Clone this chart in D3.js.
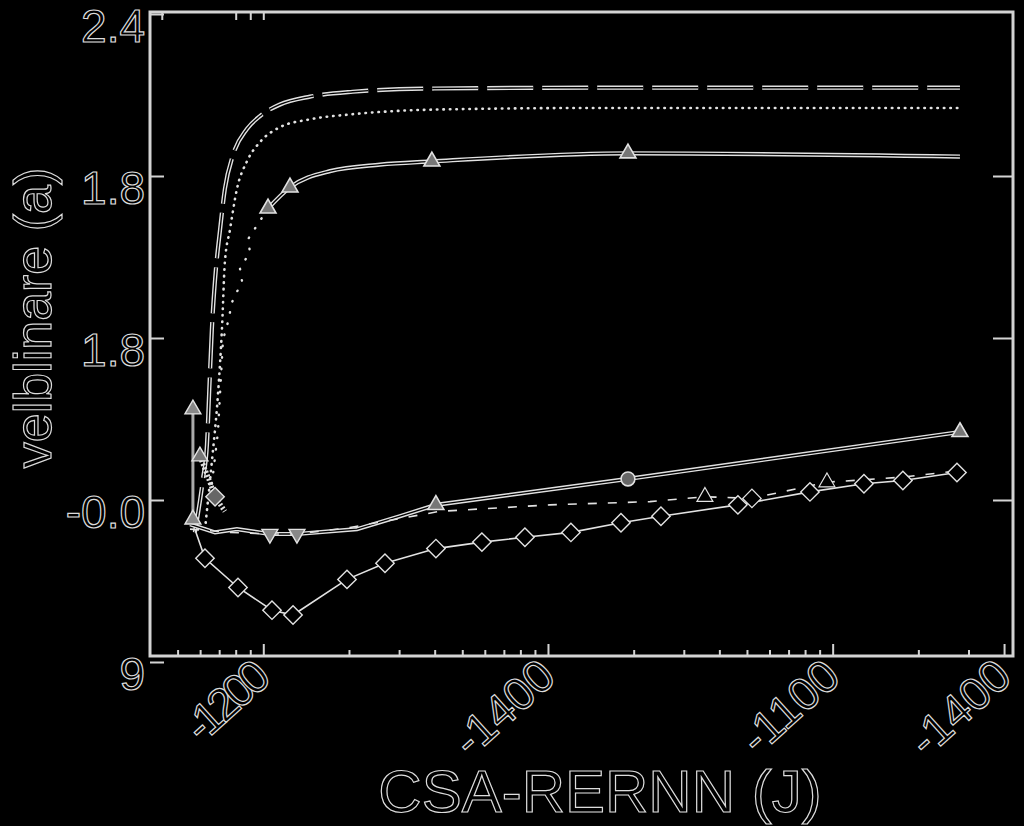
<!DOCTYPE html>
<html><head><meta charset="utf-8">
<script src="https://cdn.jsdelivr.net/npm/d3@7/dist/d3.min.js"></script>
<style>html,body{margin:0;background:#000;}svg{display:block;}</style>
</head><body>
<svg id="chart" width="1024" height="826"></svg>
<script>
// ---------- data ----------
const xMajorTicks = [100, 1000, 10000, 40000];
const xTickLabels = ["-1200", "-1400", "-1100", "-1400"];
const xMinorTicks = [50, 60, 70, 80, 90, 200, 300, 400, 500, 600, 700, 800, 900,
                     2000, 3000, 4000, 5000, 6000, 7000, 8000, 9000, 20000, 30000];
const xTopTicks = [44, 80, 90, 100];
const yTicks = [0, 1, 2, 3, 4];
const yTickLabels = ["9", "-0.0", "1.8", "1.8", "2.4"];
const xTitle = "CSA-RERNN (J)";
const yTitle = "velblinare (a)";

// long-dashed top curve
const seriesA_x = [57.5, 61.4, 63.4, 64.5, 66.0, 67.7, 70.5, 73.3, 78.3, 87.6, 97.4, 114, 146, 206, 400, 1500, 28000];
const seriesA_y = [0.80, 1.13, 1.34, 1.65, 2.06, 2.36, 2.67, 2.92, 3.13, 3.29, 3.37, 3.44, 3.49, 3.52, 3.54, 3.545, 3.545];
// dotted curve
const seriesB_x = [62.4, 66.0, 69.3, 71.6, 73.3, 76.4, 80.8, 87.6, 97.4, 114, 146, 202, 401, 1522, 28000];
const seriesB_y = [0.82, 1.24, 1.65, 2.06, 2.47, 2.67, 2.92, 3.09, 3.21, 3.30, 3.35, 3.38, 3.41, 3.42, 3.42];
// sparse dotted lead-in to the triangle curve
const seriesC0_x = [66.0, 69.3, 72.2, 75.2, 77.6, 84.2, 82.8, 89.8, 88.4, 103.9];
const seriesC0_y = [1.10, 1.42, 1.99, 2.10, 2.22, 2.35, 2.43, 2.53, 2.61, 2.80];
// solid curve with triangles
const seriesC_x = [103.9, 124.1, 171.5, 257, 391, 1910, 28000];
const seriesC_y = [2.80, 2.93, 3.03, 3.07, 3.09, 3.14, 3.12];
const seriesC_marks = [103.9, 124.1, 391, 1910];
// rising double line
const seriesD_x = [55.3, 67.7, 80.8, 105.5, 131.3, 213.3, 302, 404, 1910, 28000];
const seriesD_y = [0.85, 0.80, 0.82, 0.79, 0.79, 0.82, 0.90, 0.97, 1.13, 1.42];
const seriesD_marks = [404, 28000];
const seriesD_circle = [1910];
// short-dashed line
const seriesE_x = [55.3, 76.4, 105.5, 131.3, 201.6, 417, 1016, 2282, 3559, 5205, 9550, 17230, 27550];
const seriesE_y = [0.82, 0.80, 0.79, 0.79, 0.83, 0.93, 0.97, 0.99, 1.02, 1.01, 1.11, 1.14, 1.18];
const seriesE_down = [105.5, 131.3];
const seriesE_up = [3559, 9550];
const seriesE_diam = [5205];
// thin line with diamonds
const seriesF_x = [57.5, 62.4, 81.5, 107.3, 127.2, 196.8, 267.6, 404, 586, 830, 1204, 1805, 2494, 4648, 8322, 12880, 17650, 27330];
const seriesF_y = [0.82, 0.64, 0.46, 0.32, 0.29, 0.51, 0.61, 0.70, 0.74, 0.77, 0.80, 0.86, 0.90, 0.97, 1.05, 1.10, 1.12, 1.17];
// vertical bar near the left edge
const barX = [56.6];
const barLow = [0.88];
const barHigh = [1.56];
// cluster near the left edge
const seriesG_x = [59.9, 64.0, 67.7, 73.3];
const seriesG_y = [1.27, 1.14, 1.02, 0.93];

// ---------- layout ----------
const svg = d3.select("#chart");
const W = 1024, H = 826;
const L = 150, R = 1013, T = 12, B = 656;
const fg = "#e2e2e2";
const font = "'Liberation Sans', Arial, sans-serif";

svg.append("rect").attr("width", W).attr("height", H).attr("fill", "#000");

const x = d3.scaleLog().domain([40, 43000]).range([L, R]);
const y = d3.scaleLinear().domain([0, 4]).range([662, 14]);

const zip = (xs, ys) => xs.map((v, i) => [v, ys[i]]);
const yAt = (xs, ys, v) => ys[xs.indexOf(v)];

const lineLin = d3.line().x(d => x(d[0])).y(d => y(d[1]));
const lineCurve = d3.line().x(d => x(d[0])).y(d => y(d[1])).curve(d3.curveMonotoneX);

const plot = svg.append("g");

function doubleLine(data, gen, dash) {
  plot.append("path").attr("d", gen(data)).attr("fill", "none")
    .attr("stroke", fg).attr("stroke-width", 4.2).attr("stroke-dasharray", dash || null);
  plot.append("path").attr("d", gen(data)).attr("fill", "none")
    .attr("stroke", "#000").attr("stroke-width", 1.4).attr("stroke-dasharray", dash || null);
}

// A
doubleLine(zip(seriesA_x, seriesA_y), lineCurve, "46,9");
// B
plot.append("path").attr("d", lineCurve(zip(seriesB_x, seriesB_y))).attr("fill", "none")
  .attr("stroke", fg).attr("stroke-width", 2.6).attr("stroke-linecap", "round")
  .attr("stroke-dasharray", "0.5,6");
// C0
plot.append("path").attr("d", lineLin(zip(seriesC0_x, seriesC0_y))).attr("fill", "none")
  .attr("stroke", fg).attr("stroke-width", 2.4).attr("stroke-linecap", "round")
  .attr("stroke-dasharray", "0.5,11");
// C
doubleLine(zip(seriesC_x, seriesC_y), lineCurve);
// D
doubleLine(zip(seriesD_x, seriesD_y), lineLin);
// E
plot.append("path").attr("d", lineLin(zip(seriesE_x, seriesE_y))).attr("fill", "none")
  .attr("stroke", fg).attr("stroke-width", 1.6).attr("stroke-dasharray", "9,11");
// F
plot.append("path").attr("d", lineLin(zip(seriesF_x, seriesF_y))).attr("fill", "none")
  .attr("stroke", fg).attr("stroke-width", 1.6);
// G
plot.append("path").attr("d", lineLin(zip(seriesG_x, seriesG_y))).attr("fill", "none")
  .attr("stroke", fg).attr("stroke-width", 5).attr("stroke-dasharray", "2,2");

// vertical bar
plot.selectAll(".bar").data(barX).enter().append("line")
  .attr("x1", d => x(d)).attr("x2", d => x(d))
  .attr("y1", (d, i) => y(barLow[i])).attr("y2", (d, i) => y(barHigh[i]))
  .attr("stroke", "#aaa").attr("stroke-width", 3);

// markers
const tri = d3.symbol().type(d3.symbolTriangle).size(110);
const sq = d3.symbol().type(d3.symbolSquare).size(170);
const circ = d3.symbol().type(d3.symbolCircle).size(150);
function marks(pts, gen, rot, fill, sw) {
  plot.append("g").selectAll("path").data(pts).enter().append("path")
    .attr("d", gen)
    .attr("transform", d => `translate(${x(d[0])},${y(d[1])}) rotate(${rot})`)
    .attr("fill", fill).attr("stroke", fg).attr("stroke-width", sw);
}
marks(seriesC_marks.map(v => [v, yAt(seriesC_x, seriesC_y, v)]), tri, 0, "#777", 1.6);
marks(seriesD_marks.map(v => [v, yAt(seriesD_x, seriesD_y, v)]), tri, 0, "#777", 1.6);
marks(seriesD_circle.map(v => [v, yAt(seriesD_x, seriesD_y, v)]), circ, 0, "#666", 1.6);
marks(seriesE_down.map(v => [v, yAt(seriesE_x, seriesE_y, v)]), tri, 180, "#888", 1.4);
marks(seriesE_up.map(v => [v, yAt(seriesE_x, seriesE_y, v)]), tri, 0, "#000", 1.2);
marks(seriesE_diam.map(v => [v, yAt(seriesE_x, seriesE_y, v)]), sq, 45, "#000", 1.2);
marks(zip(seriesF_x, seriesF_y).slice(1), sq, 45, "#000", 1.4);
marks(barX.map((v, i) => [v, barHigh[i]]), tri, 0, "#888", 1.4);
marks(barX.map((v, i) => [v, barLow[i]]), tri, 0, "#888", 1.4);
marks([[seriesG_x[0], seriesG_y[0]]], tri, 0, "#777", 1.4);
marks([[seriesG_x[2], seriesG_y[2]]], sq, 45, "#666", 1.4);

// ---------- frame & axes ----------
svg.append("rect").attr("x", L).attr("y", T).attr("width", R - L).attr("height", B - T)
  .attr("fill", "none").attr("stroke", "#d4d4d4").attr("stroke-width", 3);

function styleAxis(g) {
  g.select(".domain").remove();
  g.selectAll("line").attr("stroke", "#d4d4d4").attr("stroke-width", 2);
}
svg.append("g").attr("transform", `translate(0,${B})`)
  .call(d3.axisBottom(x).tickValues(xMajorTicks).tickSize(-12).tickFormat(""))
  .call(styleAxis);
svg.append("g").attr("transform", `translate(0,${B})`)
  .call(d3.axisBottom(x).tickValues(xMinorTicks).tickSize(-6).tickFormat(""))
  .call(styleAxis);
svg.append("g").attr("transform", `translate(0,${T})`)
  .call(d3.axisTop(x).tickValues(xTopTicks).tickSize(-8).tickFormat(""))
  .call(styleAxis);
svg.append("g").attr("transform", `translate(${L},0)`)
  .call(d3.axisLeft(y).tickValues(yTicks).tickSize(-14).tickFormat(""))
  .call(styleAxis);
svg.append("g").attr("transform", `translate(${R},0)`)
  .call(d3.axisRight(y).tickValues(yTicks.slice(1, 4)).tickSize(-20).tickFormat(""))
  .call(styleAxis);

function outlined(sel, size) {
  sel.attr("font-family", font).attr("font-size", size)
    .attr("fill", "#000").attr("stroke", "#dcdcdc").attr("stroke-width", 1.2);
}
// y tick labels
svg.append("g").selectAll("text").data(yTicks).enter().append("text")
  .attr("x", 145).attr("y", d => y(d) + 11).attr("dy", "0.36em")
  .attr("text-anchor", "end").text((d, i) => yTickLabels[i])
  .call(outlined, 46);
// x tick labels
svg.append("g").selectAll("text").data(xMajorTicks).enter().append("text")
  .attr("transform", d => `translate(${x(d) + 10},${680}) rotate(-42)`)
  .attr("text-anchor", "end")
  .attr("textLength", (d, i) => i === 0 ? 96 : null)
  .attr("lengthAdjust", "spacing")
  .text((d, i) => xTickLabels[i])
  .call(outlined, 46);
// titles
svg.append("text").attr("x", 600).attr("y", 812).attr("text-anchor", "middle")
  .text(xTitle).call(outlined, 60);
svg.append("text").attr("transform", "translate(51,318) rotate(-90)")
  .attr("text-anchor", "middle").text(yTitle).call(outlined, 52);
</script>
</body></html>
